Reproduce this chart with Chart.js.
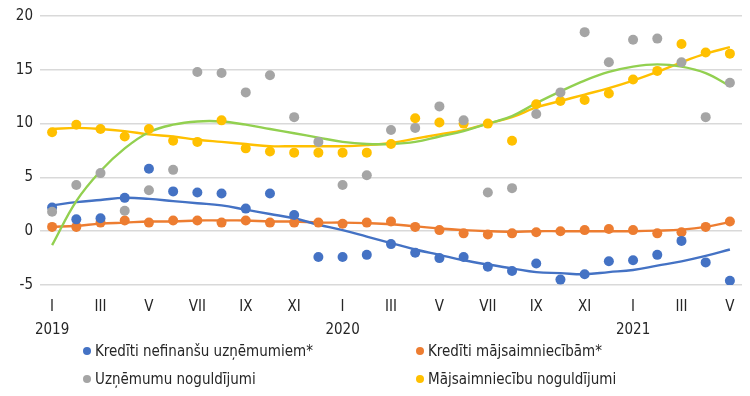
<!DOCTYPE html>
<html lang="lv">
<head>
  <meta charset="UTF-8">
  <title>Kredīti un noguldījumi</title>
  <script src="https://cdn.jsdelivr.net/npm/chart.js"></script>
  <style>
    body { margin: 0; background: #fff; }
    .wrap { position: relative; width: 750px; height: 396px; }
    .legend { position: absolute; font-family: 'DejaVu Sans Condensed', 'DejaVu Sans', sans-serif; font-size: 15px; color: #262626; white-space: nowrap; }
    .legend span.dot { display: inline-block; width: 8px; height: 8px; border-radius: 50%; margin-right: 4px; vertical-align: 1px; }
  </style>
</head>
<body>
  <div class="wrap">
    <canvas id="chart" width="750" height="396"></canvas>
    <div class="legend" style="left:83px; top:342px;"><span class="dot" style="background:#4472C4"></span>Kredīti nefinanšu uzņēmumiem*</div>
    <div class="legend" style="left:416px; top:342px;"><span class="dot" style="background:#ED7D31"></span>Kredīti mājsaimniecībām*</div>
    <div class="legend" style="left:83px; top:370px;"><span class="dot" style="background:#A5A5A5"></span>Uzņēmumu noguldījumi</div>
    <div class="legend" style="left:416px; top:370px;"><span class="dot" style="background:#FFC000"></span>Mājsaimniecību noguldījumi</div>
  </div>

<script>
  // mēneši no 2019. gada janvāra līdz 2021. gada maijam
  const menesi = ['I','II','III','IV','V','VI','VII','VIII','IX','X','XI','XII',
                  'I','II','III','IV','V','VI','VII','VIII','IX','X','XI','XII',
                  'I','II','III','IV','V'];
  const gadi = { 0: '2019', 12: '2020', 24: '2021' };
  const yTicks = [-5, 0, 5, 10, 15, 20];

  // punkti
  const kreditiUzn = [2.2, 1.1, 1.2, 3.1, 5.8, 3.7, 3.6, 3.5, 2.1, 3.5, 1.5, -2.4, -2.4, -2.2, -1.2,
                      -2.0, -2.5, -2.4, -3.3, -3.7, -3.0, -4.5, -4.0, -2.8, -2.7, -2.2, -0.9, -2.9, -4.6];
  const kreditiMajs = [0.4, 0.4, 0.8, 1.0, 0.8, 1.0, 1.0, 0.8, 1.0, 0.8, 0.8, 0.8, 0.7, 0.8, 0.9,
                       0.4, 0.1, -0.2, -0.3, -0.2, -0.1, 0.0, 0.1, 0.2, 0.1, -0.2, -0.1, 0.4, 0.9];
  const noguldUzn = [1.8, 4.3, 5.4, 1.9, 3.8, 5.7, 14.8, 14.7, 12.9, 14.5, 10.6, 8.3, 4.3, 5.2, 9.4,
                     9.6, 11.6, 10.3, 3.6, 4.0, 10.9, 12.9, 18.5, 15.7, 17.8, 17.9, 15.7, 10.6, 13.8];
  const noguldMajs = [9.2, 9.9, 9.5, 8.8, 9.5, 8.4, 8.3, 10.3, 7.7, 7.4, 7.3, 7.3, 7.3, 7.3, 8.1,
                      10.5, 10.1, 10.0, 10.0, 8.4, 11.8, 12.1, 12.2, 12.8, 14.1, 14.9, 17.4, 16.6, 16.5];

  // tendences līnijas (nolasītas no attēla)
  const trendUzn = [2.4, 2.7, 2.9, 3.1, 3.0, 2.8, 2.6, 2.4, 2.0, 1.6, 1.2, 0.6, 0.1, -0.5, -1.1,
                    -1.7, -2.2, -2.7, -3.1, -3.45, -3.8, -3.9, -4.0, -3.8, -3.6, -3.2, -2.8, -2.3, -1.7];
  const trendMajs = [0.4, 0.5, 0.7, 0.8, 0.9, 0.9, 1.0, 1.0, 1.0, 0.9, 0.9, 0.8, 0.8, 0.75, 0.65,
                     0.45, 0.25, 0.1, 0.0, -0.05, 0.0, 0.0, 0.0, 0.0, 0.0, 0.05, 0.15, 0.4, 0.85];
  const trendNogUzn = [-1.3, 2.8, 5.6, 7.7, 9.2, 9.9, 10.2, 10.2, 9.9, 9.5, 9.1, 8.7, 8.3, 8.1, 8.1,
                       8.3, 8.8, 9.3, 10.0, 10.7, 11.9, 13.0, 14.0, 14.8, 15.3, 15.5, 15.3, 14.7, 13.5];
  const trendNogMajs = [9.5, 9.6, 9.5, 9.3, 9.0, 8.8, 8.5, 8.3, 8.1, 7.9, 7.9, 7.9, 7.9, 8.0, 8.2,
                        8.6, 9.0, 9.4, 10.0, 10.6, 11.5, 12.1, 12.7, 13.3, 14.0, 14.8, 15.7, 16.5, 17.1];

  function punkti(data, krasa) {
    return { type: 'line', data: data, showLine: false, pointRadius: 5, pointHoverRadius: 5,
             pointBackgroundColor: krasa, pointBorderWidth: 0, borderColor: krasa, order: 1 };
  }
  function trends(data, krasa) {
    return { type: 'line', data: data, pointRadius: 0, borderColor: krasa, borderWidth: 2.4,
             tension: 0.4, fill: false, order: 2 };
  }

  const config = {
    type: 'line',
    data: {
      labels: menesi,
      datasets: [
        trends(trendNogUzn, '#92D050'),
        trends(trendNogMajs, '#FFC000'),
        trends(trendUzn, '#4472C4'),
        trends(trendMajs, '#ED7D31'),
        punkti(noguldUzn, '#A5A5A5'),
        punkti(noguldMajs, '#FFC000'),
        punkti(kreditiUzn, '#4472C4'),
        punkti(kreditiMajs, '#ED7D31')
      ]
    },
    options: {
      responsive: false,
      animation: false,
      layout: { padding: { top: 13, right: 8, bottom: 61, left: 0 } },
      plugins: { legend: { display: false }, tooltip: { enabled: false } },
      scales: {
        x: {
          offset: true,
          grid: { display: false, drawTicks: false },
          border: { display: false },
          afterFit: function (scale) { scale.height = 50; },
          ticks: {
            autoSkip: false,
            maxRotation: 0,
            padding: 11,
            color: '#262626',
            font: { family: "'DejaVu Sans Condensed', 'DejaVu Sans', sans-serif", size: 15, lineHeight: 1.5 },
            callback: function (val, i) {
              if (i % 2 !== 0) return '';
              return gadi[i] ? [menesi[i], gadi[i]] : menesi[i];
            }
          }
        },
        y: {
          min: yTicks[0],
          max: yTicks[yTicks.length - 1],
          afterFit: function (scale) { scale.width = 40; },
          afterBuildTicks: function (scale) { scale.ticks = yTicks.map(v => ({ value: v })); },
          grid: { color: '#d9d9d9', lineWidth: 1.5, drawTicks: false },
          border: { display: false },
          ticks: {
            padding: 7,
            color: '#262626',
            font: { family: "'DejaVu Sans Condensed', 'DejaVu Sans', sans-serif", size: 15 }
          }
        }
      }
    }
  };

  new Chart(document.getElementById('chart'), config);
</script>
</body>
</html>
